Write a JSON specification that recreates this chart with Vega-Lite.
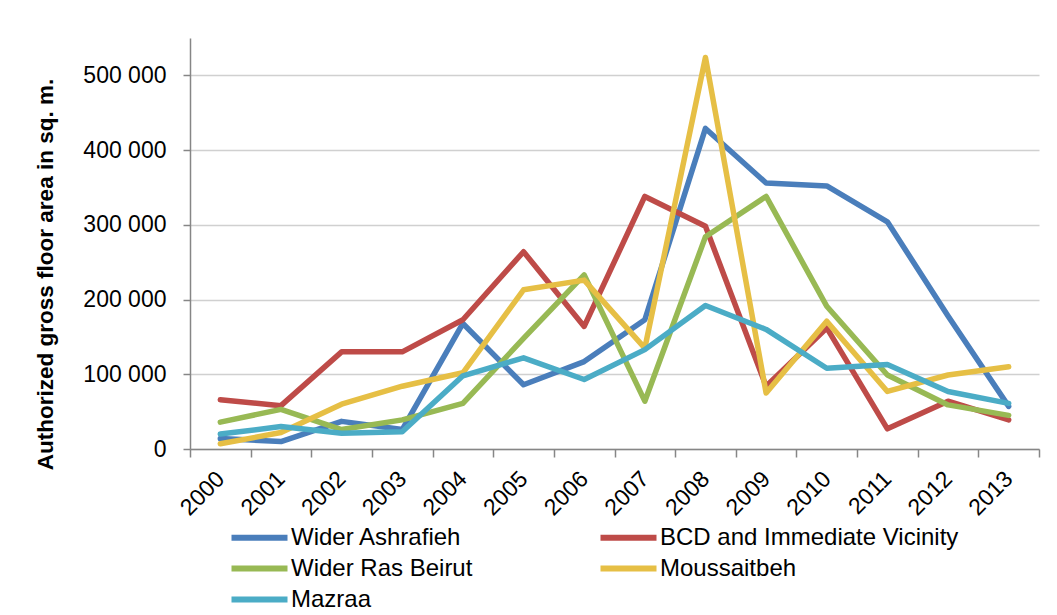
{
  "$schema": "https://vega.github.io/schema/vega-lite/v6.json",
  "width": 849,
  "height": 411,
  "autosize": "none",
  "padding": {"left": 190, "top": 38, "right": 18, "bottom": 166},
  "background": "white",
  "config": {
    "view": {"stroke": null},
    "font": "Liberation Sans",
    "axis": {"labelFont": "Liberation Sans", "labelColor": "#000000", "domainColor": "#868686", "tickColor": "#868686"}
  },
  "data": {"values": [
    {"year": 2000, "region": "Wider Ashrafieh", "area": 14000},
    {"year": 2001, "region": "Wider Ashrafieh", "area": 10000},
    {"year": 2002, "region": "Wider Ashrafieh", "area": 37000},
    {"year": 2003, "region": "Wider Ashrafieh", "area": 26000},
    {"year": 2004, "region": "Wider Ashrafieh", "area": 168000},
    {"year": 2005, "region": "Wider Ashrafieh", "area": 86000},
    {"year": 2006, "region": "Wider Ashrafieh", "area": 117000},
    {"year": 2007, "region": "Wider Ashrafieh", "area": 173000},
    {"year": 2008, "region": "Wider Ashrafieh", "area": 429000},
    {"year": 2009, "region": "Wider Ashrafieh", "area": 356000},
    {"year": 2010, "region": "Wider Ashrafieh", "area": 352000},
    {"year": 2011, "region": "Wider Ashrafieh", "area": 304000},
    {"year": 2012, "region": "Wider Ashrafieh", "area": 178000},
    {"year": 2013, "region": "Wider Ashrafieh", "area": 57000},
    {"year": 2000, "region": "BCD and Immediate Vicinity", "area": 66000},
    {"year": 2001, "region": "BCD and Immediate Vicinity", "area": 58000},
    {"year": 2002, "region": "BCD and Immediate Vicinity", "area": 130000},
    {"year": 2003, "region": "BCD and Immediate Vicinity", "area": 130000},
    {"year": 2004, "region": "BCD and Immediate Vicinity", "area": 173000},
    {"year": 2005, "region": "BCD and Immediate Vicinity", "area": 264000},
    {"year": 2006, "region": "BCD and Immediate Vicinity", "area": 164000},
    {"year": 2007, "region": "BCD and Immediate Vicinity", "area": 338000},
    {"year": 2008, "region": "BCD and Immediate Vicinity", "area": 298000},
    {"year": 2009, "region": "BCD and Immediate Vicinity", "area": 84000},
    {"year": 2010, "region": "BCD and Immediate Vicinity", "area": 162000},
    {"year": 2011, "region": "BCD and Immediate Vicinity", "area": 27000},
    {"year": 2012, "region": "BCD and Immediate Vicinity", "area": 64000},
    {"year": 2013, "region": "BCD and Immediate Vicinity", "area": 39000},
    {"year": 2000, "region": "Wider Ras Beirut", "area": 36000},
    {"year": 2001, "region": "Wider Ras Beirut", "area": 53000},
    {"year": 2002, "region": "Wider Ras Beirut", "area": 26000},
    {"year": 2003, "region": "Wider Ras Beirut", "area": 39000},
    {"year": 2004, "region": "Wider Ras Beirut", "area": 61000},
    {"year": 2005, "region": "Wider Ras Beirut", "area": 148000},
    {"year": 2006, "region": "Wider Ras Beirut", "area": 233000},
    {"year": 2007, "region": "Wider Ras Beirut", "area": 64000},
    {"year": 2008, "region": "Wider Ras Beirut", "area": 284000},
    {"year": 2009, "region": "Wider Ras Beirut", "area": 338000},
    {"year": 2010, "region": "Wider Ras Beirut", "area": 191000},
    {"year": 2011, "region": "Wider Ras Beirut", "area": 99000},
    {"year": 2012, "region": "Wider Ras Beirut", "area": 59000},
    {"year": 2013, "region": "Wider Ras Beirut", "area": 45000},
    {"year": 2000, "region": "Moussaitbeh", "area": 7000},
    {"year": 2001, "region": "Moussaitbeh", "area": 22000},
    {"year": 2002, "region": "Moussaitbeh", "area": 60000},
    {"year": 2003, "region": "Moussaitbeh", "area": 84000},
    {"year": 2004, "region": "Moussaitbeh", "area": 102000},
    {"year": 2005, "region": "Moussaitbeh", "area": 213000},
    {"year": 2006, "region": "Moussaitbeh", "area": 226000},
    {"year": 2007, "region": "Moussaitbeh", "area": 135000},
    {"year": 2008, "region": "Moussaitbeh", "area": 524000},
    {"year": 2009, "region": "Moussaitbeh", "area": 75000},
    {"year": 2010, "region": "Moussaitbeh", "area": 171000},
    {"year": 2011, "region": "Moussaitbeh", "area": 77000},
    {"year": 2012, "region": "Moussaitbeh", "area": 99000},
    {"year": 2013, "region": "Moussaitbeh", "area": 110000},
    {"year": 2000, "region": "Mazraa", "area": 20000},
    {"year": 2001, "region": "Mazraa", "area": 30000},
    {"year": 2002, "region": "Mazraa", "area": 21000},
    {"year": 2003, "region": "Mazraa", "area": 23000},
    {"year": 2004, "region": "Mazraa", "area": 98000},
    {"year": 2005, "region": "Mazraa", "area": 122000},
    {"year": 2006, "region": "Mazraa", "area": 93000},
    {"year": 2007, "region": "Mazraa", "area": 133000},
    {"year": 2008, "region": "Mazraa", "area": 192000},
    {"year": 2009, "region": "Mazraa", "area": 160000},
    {"year": 2010, "region": "Mazraa", "area": 108000},
    {"year": 2011, "region": "Mazraa", "area": 113000},
    {"year": 2012, "region": "Mazraa", "area": 77000},
    {"year": 2013, "region": "Mazraa", "area": 61000}
  ]},
  "layer": [
    {
      "mark": {"type": "rule", "opacity": 0},
      "encoding": {
        "x": {"field": "year", "type": "quantitative", "scale": {"domain": [1999.5, 2013.5], "nice": false, "zero": false},
          "axis": {"orient": "bottom", "values": [1999.5, 2000.5, 2001.5, 2002.5, 2003.5, 2004.5, 2005.5, 2006.5, 2007.5, 2008.5, 2009.5, 2010.5, 2011.5, 2012.5, 2013.5],
            "labels": false, "title": null, "grid": false, "tickSize": 8, "tickWidth": 1.5, "domainWidth": 1.5}}
      }
    },
    {
      "mark": {"type": "line", "strokeWidth": 5.5, "strokeJoin": "round", "strokeCap": "round"},
      "encoding": {
        "x": {"field": "year", "type": "quantitative",
          "axis": {"orient": "bottom", "values": [2000, 2001, 2002, 2003, 2004, 2005, 2006, 2007, 2008, 2009, 2010, 2011, 2012, 2013],
            "format": "d", "labelAngle": -45, "labelFontSize": 23, "labelAlign": "right", "labelBaseline": "middle",
            "labelPadding": 26, "ticks": false, "domain": false, "grid": false, "title": null, "labelOverlap": false, "labelFlush": false}},
        "y": {"field": "area", "type": "quantitative", "scale": {"domain": [0, 550000], "nice": false},
          "axis": {"values": [0, 100000, 200000, 300000, 400000, 500000],
            "labelExpr": "replace(format(datum.value, ','), ',', ' ')",
            "labelFontSize": 23, "labelPadding": 17, "tickSize": 7, "tickWidth": 1.5, "domainWidth": 1.5,
            "gridColor": "#D0D0D0", "gridWidth": 1.5,
            "title": "Authorized gross floor area in sq. m.", "titleFontSize": 22.5, "titleFontWeight": "bold",
            "titleColor": "#000000", "titleAngle": -90, "titleX": -145, "titleY": 236, "titleAlign": "center", "titleBaseline": "middle"}},
        "color": {"field": "region", "type": "nominal",
          "scale": {"domain": ["Wider Ashrafieh", "BCD and Immediate Vicinity", "Wider Ras Beirut", "Moussaitbeh", "Mazraa"],
            "range": ["#4A7EBB", "#BE4B48", "#98B954", "#E6BF45", "#4BACC6"]},
          "legend": {"orient": "none", "legendX": 54, "legendY": 484, "direction": "horizontal", "columns": 2, "title": null,
            "symbolType": "M-2.24,0H2.24", "symbolSize": 625, "symbolStrokeWidth": 6, "labelFontSize": 24, "labelColor": "#000000",
            "labelOffset": 16, "rowPadding": 3, "columnPadding": 115, "labelLimit": 400}}
      }
    }
  ],
  "resolve": {"axis": {"x": "independent"}}
}
